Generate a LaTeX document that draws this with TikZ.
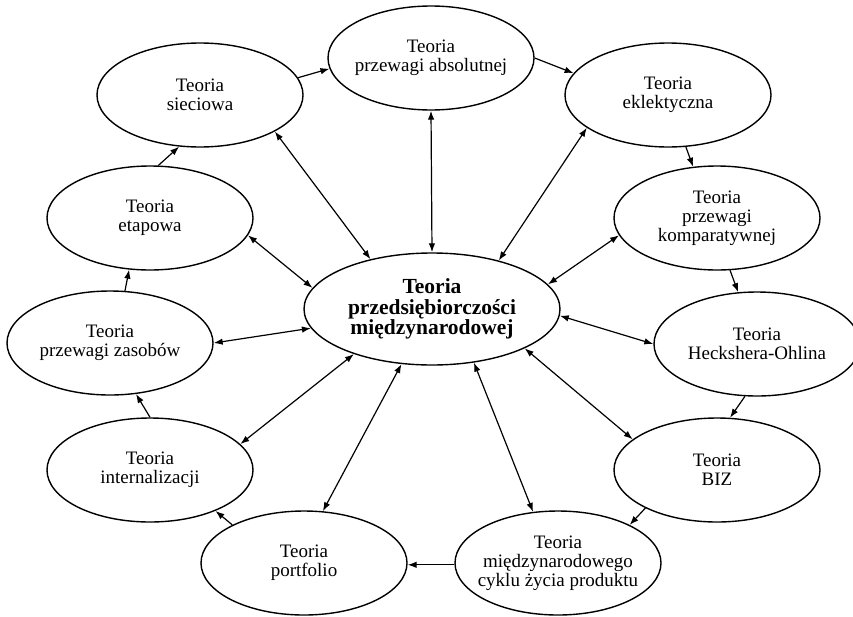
\documentclass[tikz,border=0pt]{standalone}
\usepackage{fontspec}
\setmainfont{Liberation Serif}
\usetikzlibrary{shapes.geometric,arrows.meta}
\begin{document}
\begin{tikzpicture}[x=1pt,y=-1pt,
  theory/.style={draw, ellipse, line width=1.4pt, minimum width=206pt, minimum height=104pt, inner sep=0pt},
  hub/.style={draw, ellipse, line width=1.4pt, minimum width=256pt, minimum height=112pt, inner sep=0pt},
  ttext/.style={align=center, font=\fontsize{19}{19}\selectfont, inner sep=0pt},
  htext/.style={align=center, font=\fontsize{21.5}{20.5}\selectfont\bfseries, inner sep=0pt},
  tip/.tip={Latex[length=9pt,width=6.5pt]},
  flow/.style={-tip, line width=1.2pt},
  link/.style={tip-tip, line width=1.2pt}]
\useasboundingbox (0,0) rectangle (853,616);

% central theory
\node[hub] (hub) at (432,309) {};
\node[htext] (hub-t) at (hub) {Teoria\\przedsiębiorczości\\międzynarodowej};

% surrounding theories
\node[theory] (abs) at (431,58) {};
\node[ttext] (abs-t) at (abs) {Teoria\\przewagi absolutnej};
\node[theory] (siec) at (200,95) {};
\node[ttext] (siec-t) at (siec) {Teoria\\sieciowa};
\node[theory] (eklek) at (668,95) {};
\node[ttext] (eklek-t) at (eklek) {Teoria\\eklektyczna};
\node[theory] (etap) at (150,218) {};
\node[ttext] (etap-t) at (etap) {Teoria\\etapowa};
\node[theory] (komp) at (717,218) {};
\node[ttext] (komp-t) at (komp) {Teoria\\przewagi\\komparatywnej};
\node[theory] (zas) at (110,343) {};
\node[ttext] (zas-t) at (zas) {Teoria\\przewagi zasobów};
\node[theory] (heck) at (757,344) {};
\node[ttext] (heck-t) at (heck) {Teoria\\Heckshera-Ohlina};
\node[theory] (intern) at (150,470) {};
\node[ttext] (intern-t) at (intern) {Teoria\\internalizacji};
\node[theory] (biz) at (717,470) {};
\node[ttext] (biz-t) at (biz) {Teoria\\BIZ};
\node[theory] (port) at (304,563) {};
\node[ttext] (port-t) at (port) {Teoria\\portfolio};
\node[theory] (cykl) at (558,563) {};
\node[ttext] (cykl-t) at (cykl) {Teoria\\międzynarodowego\\cyklu życia produktu};

% outer cycle
\draw[flow] (siec.10) -- (abs.186);
\draw[flow] (abs.0) -- (eklek.167);
\draw[flow] (eklek.-71) -- (komp.115);
\draw[flow] (komp.-76) -- (heck.110);
\draw[flow] (heck.-103) -- (biz.76);
\draw[flow] (biz.208) -- (cykl.28);
\draw[flow] (cykl.181) -- (port.-1);
\draw[flow] (port.152) -- (intern.-32);
\draw[flow] (intern.90) -- (zas.-63);
\draw[flow] (zas.74) -- (etap.-112);
\draw[flow] (etap.81) -- (siec.-112);

% links to the central theory
\draw[link] (hub.90) -- (abs.-90);
\draw[link] (hub.36) -- (eklek.202);
\draw[link] (hub.12) -- (komp.190);
\draw[link] (hub.-3.5) -- (heck.180);
\draw[link] (hub.-23) -- (biz.160);
\draw[link] (hub.-52) -- (cykl.116);
\draw[link] (hub.241) -- (port.70);
\draw[link] (hub.210) -- (intern.16);
\draw[link] (hub.189) -- (zas.0);
\draw[link] (hub.170) -- (etap.-10);
\draw[link] (hub.141) -- (siec.-26);
\end{tikzpicture}
\end{document}
